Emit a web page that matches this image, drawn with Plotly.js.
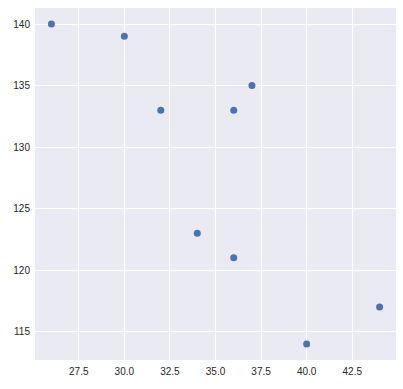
<!DOCTYPE html>
<html>
<head>
<meta charset="utf-8">
<script src="https://cdn.plot.ly/plotly-3.0.1.min.js"></script>
<style>html,body{margin:0;padding:0;background:#fff;}#plot{width:403px;height:389px;}</style>
</head>
<body>
<div id="plot"></div>
<script>
const xValues = [26, 30, 32, 36, 37, 34, 36, 40, 44];
const yValues = [140, 139, 133, 133, 135, 123, 121, 114, 117];
const xTickVals = [27.5, 30, 32.5, 35, 37.5, 40, 42.5];
const xTickText = ["27.5", "30.0", "32.5", "35.0", "37.5", "40.0", "42.5"];
const yTickVals = [115, 120, 125, 130, 135, 140];

Plotly.newPlot('plot', [{
  x: xValues, y: yValues, type: 'scatter', mode: 'markers',
  marker: {color: '#4c72b0', size: 7, line: {width: 0}}
}], {
  width: 403, height: 389,
  margin: {l: 35, r: 7, t: 8, b: 29},
  paper_bgcolor: '#ffffff', plot_bgcolor: '#eaeaf2',
  font: {family: 'Liberation Sans, Arial, sans-serif', size: 10, color: '#262626'},
  showlegend: false,
  xaxis: {range: [25.1, 44.9], tickvals: xTickVals, ticktext: xTickText, showgrid: true, gridcolor: '#ffffff', gridwidth: 1, zeroline: false, showline: false, ticks: '', ticklabelstandoff: 4},
  yaxis: {range: [112.7, 141.3], tickvals: yTickVals, showgrid: true, gridcolor: '#ffffff', gridwidth: 1, zeroline: false, showline: false, ticks: '', ticklabelstandoff: 4}
}, {displayModeBar: false, staticPlot: true});
</script>
</body>
</html>
